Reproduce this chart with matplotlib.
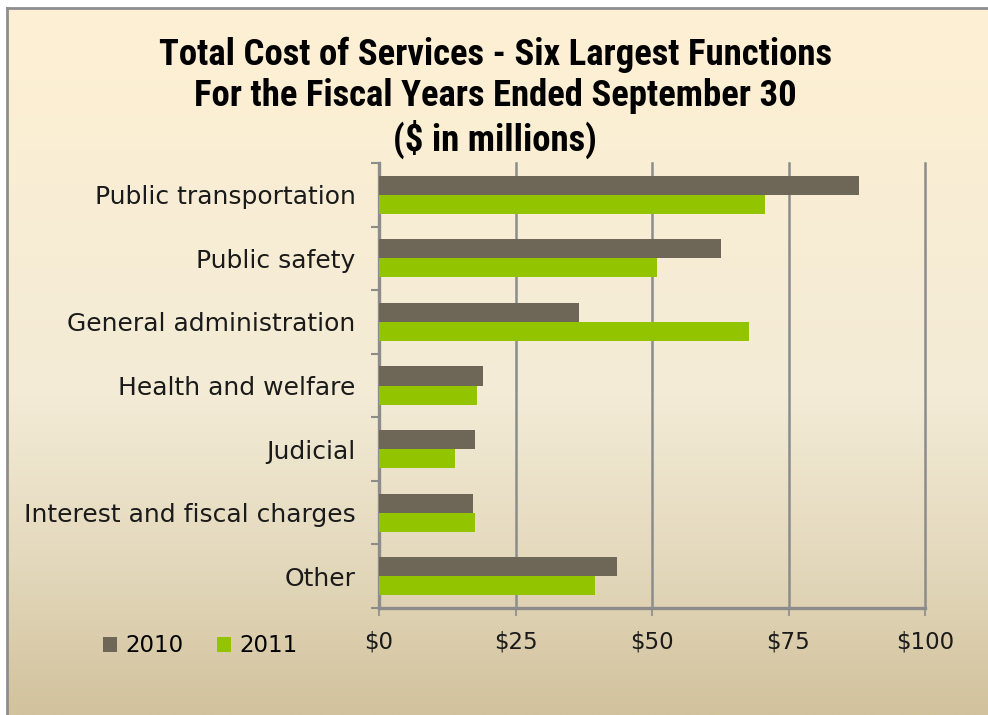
import numpy as np
import matplotlib
matplotlib.use("Agg")
import matplotlib.pyplot as plt
from matplotlib.colors import LinearSegmentedColormap

# data ($ in millions)
categories = ["Public transportation", "Public safety", "General administration",
              "Health and welfare", "Judicial", "Interest and fiscal charges", "Other"]
values_2010 = [87.9, 62.7, 36.7, 19.1, 17.5, 17.2, 43.6]
values_2011 = [70.7, 51.0, 67.8, 17.9, 13.9, 17.5, 39.6]
series_labels = ["2010", "2011"]
x_ticks = [0, 25, 50, 75, 100]
x_tick_labels = ["$0", "$25", "$50", "$75", "$100"]

title = ("Total Cost of Services - Six Largest Functions\n"
         "For the Fiscal Years Ended September 30\n"
         "($ in millions)")

c2010 = "#6e6657"
c2011 = "#92c500"
grid_c = "#8c8c8c"
label_font = ["DejaVu Sans"]
title_font = ["Roboto Condensed", "DejaVu Sans"]

W, H = 988, 715
fig = plt.figure(figsize=(W / 100, H / 100), dpi=100)
fig.patch.set_facecolor("white")

# gradient background of the chart area (frame starts a few px in from top-left)
bg = fig.add_axes([7 / W, 0, 1 - 7 / W, (H - 8) / H], zorder=0)
cmap = LinearSegmentedColormap.from_list(
    "bg", [(0, "#fef0d3"), (0.55, "#f3ebd6"), (0.78, "#e4d9bd"), (1, "#d2c29d")])
grad = np.linspace(0, 1, 256).reshape(-1, 1)
bg.imshow(grad, aspect="auto", cmap=cmap, extent=[0, 1, 0, 1], origin="upper")
bg.set_xlim(0, 1)
bg.set_ylim(0, 1)
bg.axis("off")
# gray frame line on left and top
fig.add_artist(plt.Line2D([7 / W, 7 / W], [0, (H - 8) / H], color="#8e8e8e", lw=2))
fig.add_artist(plt.Line2D([7 / W, 1], [(H - 8) / H, (H - 8) / H], color="#8e8e8e", lw=2))

ax = fig.add_axes([379 / W, 107 / H, (925 - 379) / W, (608 - 163) / H], zorder=2)
ax.set_facecolor("none")

y = np.arange(len(categories))
bh = 0.3
ax.barh(y - bh / 2, values_2010, height=bh, color=c2010, label=series_labels[0], zorder=3)
ax.barh(y + bh / 2, values_2011, height=bh, color=c2011, label=series_labels[1], zorder=3)

ax.set_xlim(0, 100)
ax.set_ylim(len(categories) - 0.5, -0.5)

ax.set_xticks(x_ticks)
ax.set_xticklabels(x_tick_labels, fontsize=16.5, family=label_font, color="#1a1a1a")
ax.set_yticks(y)
ax.set_yticklabels(categories, fontsize=18, family=label_font, color="#1a1a1a")
ax.set_yticks(np.arange(-0.5, len(categories), 1), minor=True)

ax.tick_params(axis="y", which="major", length=0, pad=17)
ax.tick_params(axis="y", which="minor", length=6, width=1.5, color=grid_c)
ax.tick_params(axis="x", which="major", length=6, width=1.2, color=grid_c, pad=10)

ax.xaxis.grid(True, color=grid_c, lw=1.8, zorder=1)
for gl in ax.get_xgridlines():
    gl.set_clip_on(False)  # keep the $100 line full width at the axes edge
ax.set_axisbelow(True)
for s in ["top", "right"]:
    ax.spines[s].set_visible(False)
for s in ["left", "bottom"]:
    ax.spines[s].set_color(grid_c)
    ax.spines[s].set_linewidth(2.4)

fig.text(495 / W, 1 - 98 / H, title, ha="center", va="center", fontsize=26.5,
         fontweight="bold", family=title_font, linespacing=1.18, color="black")

fig.legend(loc="center left", bbox_to_anchor=(94 / W, 1 - 646 / H), ncol=2,
           frameon=False, prop={"family": label_font, "size": 16.5},
           handlelength=0.6, handleheight=0.6, handletextpad=0.35,
           columnspacing=1.5, borderaxespad=0)

fig.savefig("out.png", dpi=100)
